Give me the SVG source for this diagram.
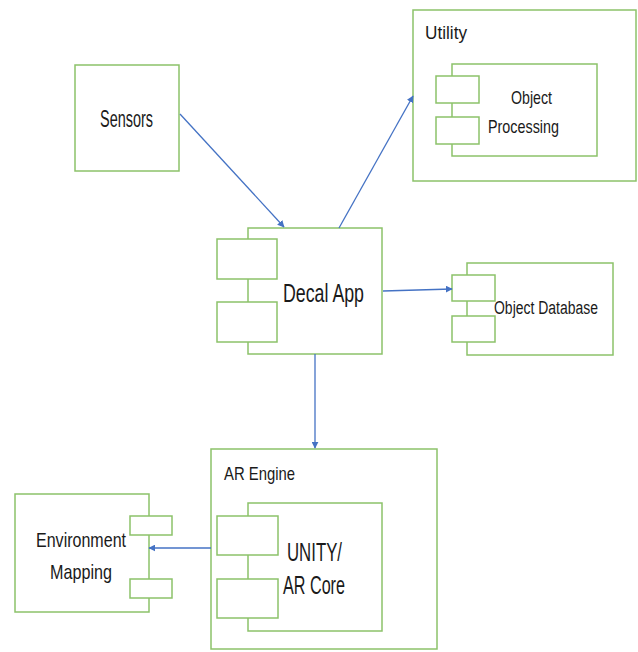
<svg xmlns="http://www.w3.org/2000/svg" width="638" height="652" viewBox="0 0 638 652">
<defs>
<style>
.b{fill:#fff;stroke:#8cc26a;stroke-width:1.5}
.t{font-family:"Liberation Sans",Arial,sans-serif;fill:#1a1a1a}
.c{stroke:#4472c4;stroke-width:1.3;fill:none;marker-end:url(#ah)}
</style>
<marker id="ah" viewBox="0 0 10 10" refX="9" refY="5" markerWidth="7" markerHeight="7" orient="auto" markerUnits="userSpaceOnUse"><path d="M0,0L10,5L0,10z" fill="#4472c4"/></marker>
</defs>
<rect width="638" height="652" fill="#fff"/>
<g id="sensors">
<rect class="b" x="75" y="65" width="104" height="106"/>
<text class="t" x="100" y="127" font-size="23" textLength="53" lengthAdjust="spacingAndGlyphs">Sensors</text>
</g>
<g id="utility">
<rect class="b" x="413" y="10" width="223" height="171"/>
<text class="t" x="425" y="39" font-size="19" textLength="42" lengthAdjust="spacingAndGlyphs">Utility</text>
<g id="object-processing">
<rect class="b" x="452" y="64" width="145" height="92"/>
<rect class="b" x="436" y="76" width="43" height="27"/>
<rect class="b" x="436" y="117" width="43" height="27"/>
<text class="t" x="511" y="104" font-size="19" textLength="41" lengthAdjust="spacingAndGlyphs">Object</text>
<text class="t" x="488" y="133" font-size="19" textLength="71" lengthAdjust="spacingAndGlyphs">Processing</text>
</g>
</g>
<g id="decal-app">
<rect class="b" x="248" y="228" width="134" height="126"/>
<rect class="b" x="217" y="239" width="60" height="40"/>
<rect class="b" x="217" y="302" width="60" height="40"/>
<text class="t" x="283" y="302" font-size="26" textLength="81" lengthAdjust="spacingAndGlyphs">Decal App</text>
</g>
<g id="object-database">
<rect class="b" x="467" y="263" width="146" height="92"/>
<rect class="b" x="452" y="275" width="43" height="26"/>
<rect class="b" x="452" y="316" width="43" height="26"/>
<text class="t" x="494" y="314" font-size="18" textLength="104" lengthAdjust="spacingAndGlyphs">Object Database</text>
</g>
<g id="ar-engine">
<rect class="b" x="211" y="449" width="226" height="200"/>
<text class="t" x="224" y="480" font-size="19" textLength="71" lengthAdjust="spacingAndGlyphs">AR Engine</text>
<g id="unity-ar-core">
<rect class="b" x="248" y="503" width="134" height="128"/>
<rect class="b" x="217" y="516" width="61" height="39"/>
<rect class="b" x="217" y="579" width="61" height="39"/>
<text class="t" x="287" y="561" font-size="26" textLength="55" lengthAdjust="spacingAndGlyphs">UNITY/</text>
<text class="t" x="283" y="594" font-size="25" textLength="62" lengthAdjust="spacingAndGlyphs">AR Core</text>
</g>
</g>
<g id="environment-mapping">
<rect class="b" x="15" y="494" width="134" height="118"/>
<rect class="b" x="130" y="516" width="42" height="19"/>
<rect class="b" x="130" y="579" width="42" height="19"/>
<text class="t" x="36" y="547" font-size="21" textLength="90" lengthAdjust="spacingAndGlyphs">Environment</text>
<text class="t" x="50" y="579" font-size="21" textLength="62" lengthAdjust="spacingAndGlyphs">Mapping</text>
</g>
<g id="connectors">
<line class="c" x1="180" y1="114" x2="284" y2="227"/>
<line class="c" x1="339" y1="228" x2="413" y2="96"/>
<line class="c" x1="383" y1="291" x2="452" y2="289"/>
<line class="c" x1="315" y1="354" x2="315" y2="448"/>
<line class="c" x1="211" y1="548" x2="149" y2="548"/>
</g>
</svg>
